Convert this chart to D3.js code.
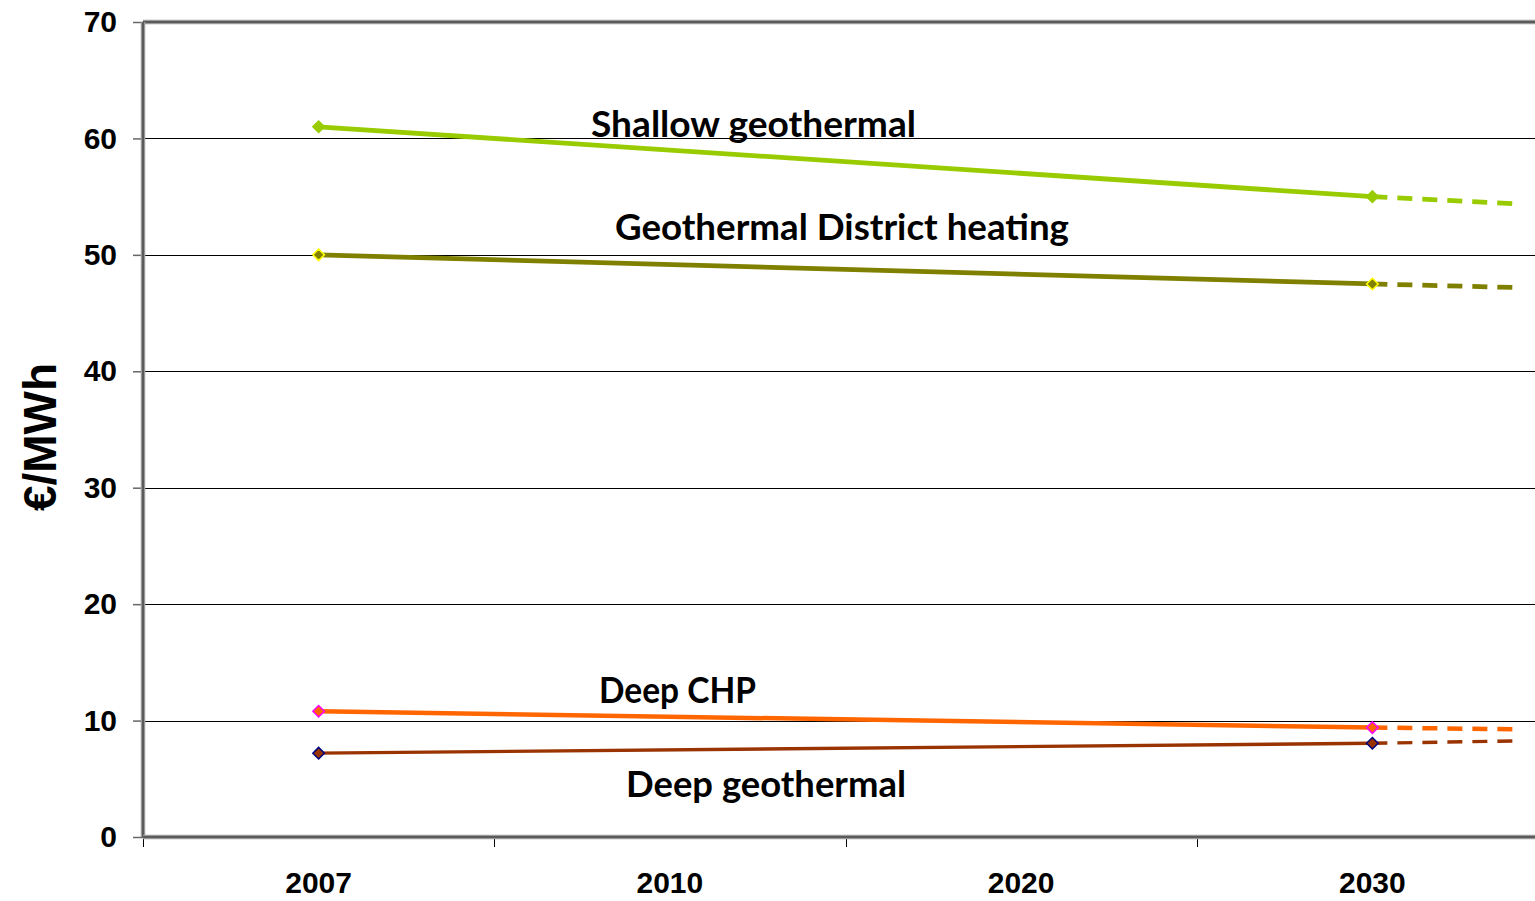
<!DOCTYPE html>
<html>
<head>
<meta charset="utf-8">
<script src="https://cdn.jsdelivr.net/npm/d3@7"></script>
<style>
  body { margin: 0; background: #fff; }
  svg { display: block; }
</style>
</head>
<body>
<svg></svg>
<script>
const width = 1535;
const height = 901;

// data
const years = ["2007", "2010", "2020", "2030"];
const yTicks = [0, 10, 20, 30, 40, 50, 60, 70];
const shallow = [61.0, null, null, 55.0];
const districtHeating = [50.0, null, null, 47.5];
const deepCHP = [10.8, null, null, 9.4];
const deepGeo = [7.2, null, null, 8.05];
// value where the dashed trend stops, a bit past 2030
const trendEnd = [54.4, 47.2, 9.25, 8.25];
const seriesNames = ["Shallow geothermal", "Geothermal District heating", "Deep CHP", "Deep geothermal"];

const trendReach = 0.4; // fraction of a band past 2030

let svg = d3.select("svg")
    .attr("width", width)
    .attr("height", height);

const plotLeft = 143, plotTop = 22, plotBottom = 837;
const band = 351.25;

let x = d3.scaleBand()
    .domain(years)
    .range([plotLeft, plotLeft + band * years.length]);

let y = d3.scaleLinear()
    .domain([0, 70])
    .range([plotBottom, plotTop]);

// gridlines
svg.append("g")
    .selectAll("line")
    .data(yTicks.filter(d => d > 0 && d < 70))
    .join("line")
    .attr("x1", plotLeft)
    .attr("x2", width)
    .attr("y1", d => Math.round(y(d)) + 0.5)
    .attr("y2", d => Math.round(y(d)) + 0.5)
    .style("stroke", "#000")
    .style("stroke-width", 1);

// y axis ticks + labels
let yAxis = svg.append("g")
    .attr("transform", `translate(${plotLeft},0)`)
    .call(d3.axisLeft(y).tickValues(yTicks).tickSize(10).tickPadding(16));
yAxis.select(".domain").remove();
yAxis.selectAll(".tick line").style("stroke", "#666").style("stroke-width", 1.5);
yAxis.selectAll(".tick text")
    .style("font-family", "'Liberation Sans', Arial, sans-serif")
    .style("font-weight", "bold")
    .style("font-size", "30px")
    .style("fill", "#000");

// x axis labels at band centres
let xAxis = svg.append("g")
    .attr("transform", `translate(0,${plotBottom})`)
    .call(d3.axisBottom(x).tickSize(0).tickPadding(35));
xAxis.select(".domain").remove();
xAxis.selectAll(".tick text")
    .style("font-family", "'Liberation Sans', Arial, sans-serif")
    .style("font-weight", "bold")
    .style("font-size", "30px")
    .style("fill", "#000");

// x ticks at band edges
svg.append("g")
    .selectAll("line")
    .data(years)
    .join("line")
    .attr("x1", d => Math.round(x(d)) + 0.5)
    .attr("x2", d => Math.round(x(d)) + 0.5)
    .attr("y1", plotBottom)
    .attr("y2", plotBottom + 10)
    .style("stroke", "#000")
    .style("stroke-width", 1);

// frame: top border, left and bottom axes
function frameLine(x1, y1, x2, y2) {
    svg.append("line")
        .attr("x1", x1).attr("y1", y1).attr("x2", x2).attr("y2", y2)
        .style("stroke", "#9a9a9a")
        .style("stroke-width", 4.5);
    svg.append("line")
        .attr("x1", x1).attr("y1", y1).attr("x2", x2).attr("y2", y2)
        .style("stroke", "#5a5a5a")
        .style("stroke-width", 2);
}
frameLine(plotLeft, plotTop, width, plotTop);
frameLine(plotLeft, plotTop, plotLeft, plotBottom);
frameLine(plotLeft, plotBottom, width, plotBottom);

// series
const series = [
    {name: seriesNames[0], values: shallow, trend: trendEnd[0], color: "#99cc00", marker: "#99cc00", w: 4.8},
    {name: seriesNames[1], values: districtHeating, trend: trendEnd[1], color: "#808000", marker: "#ffff00", w: 4.8},
    {name: seriesNames[2], values: deepCHP, trend: trendEnd[2], color: "#ff6600", marker: "#ff00ff", w: 4.5},
    {name: seriesNames[3], values: deepGeo, trend: trendEnd[3], color: "#993300", marker: "#000080", w: 3.4}
];

const cx = d => x(d) + x.bandwidth() / 2;
let line = d3.line()
    .x(d => d.x)
    .y(d => y(d.v));

series.forEach(s => {
    let pts = years.map((yr, i) => ({x: cx(yr), v: s.values[i]}))
        .filter(p => p.v !== null);
    let last = pts[pts.length - 1];
    let trendPts = [last, {x: last.x + trendReach * x.bandwidth(), v: s.trend}];

    svg.append("path")
        .attr("d", line(trendPts))
        .style("fill", "none")
        .style("stroke", s.color)
        .style("stroke-width", s.w)
        .style("stroke-dasharray", "15,10");

    svg.append("path")
        .attr("d", line(pts))
        .style("fill", "none")
        .style("stroke", s.color)
        .style("stroke-width", s.w);

    svg.append("g")
        .selectAll("path")
        .data(pts)
        .join("path")
        .attr("d", d3.symbol(d3.symbolDiamond2, 85))
        .attr("transform", d => `translate(${d.x},${y(d.v)})`)
        .style("fill", s.color)
        .style("stroke", s.marker)
        .style("stroke-width", 1.5);
});

// series labels
const labelPos = [
    {x: 591, y: 137, w: 325},
    {x: 615, y: 240, w: 454},
    {x: 599, y: 703, w: 157},
    {x: 626, y: 797, w: 280}
];
svg.append("g")
    .selectAll("text")
    .data(seriesNames)
    .join("text")
    .attr("x", (d, i) => labelPos[i].x)
    .attr("y", (d, i) => labelPos[i].y)
    .attr("textLength", (d, i) => labelPos[i].w)
    .attr("lengthAdjust", "spacingAndGlyphs")
    .style("font-family", "Lato, 'Open Sans', sans-serif")
    .style("font-weight", "bold")
    .style("font-size", "36px")
    .style("fill", "#000")
    .text(d => d);

// y axis title
svg.append("text")
    .attr("transform", "translate(56,437) rotate(-90)")
    .attr("text-anchor", "middle")
    .style("font-family", "'Liberation Sans', Arial, sans-serif")
    .style("font-weight", "bold")
    .style("font-size", "46px")
    .style("fill", "#000")
    .text("€/MWh");
</script>
</body>
</html>
